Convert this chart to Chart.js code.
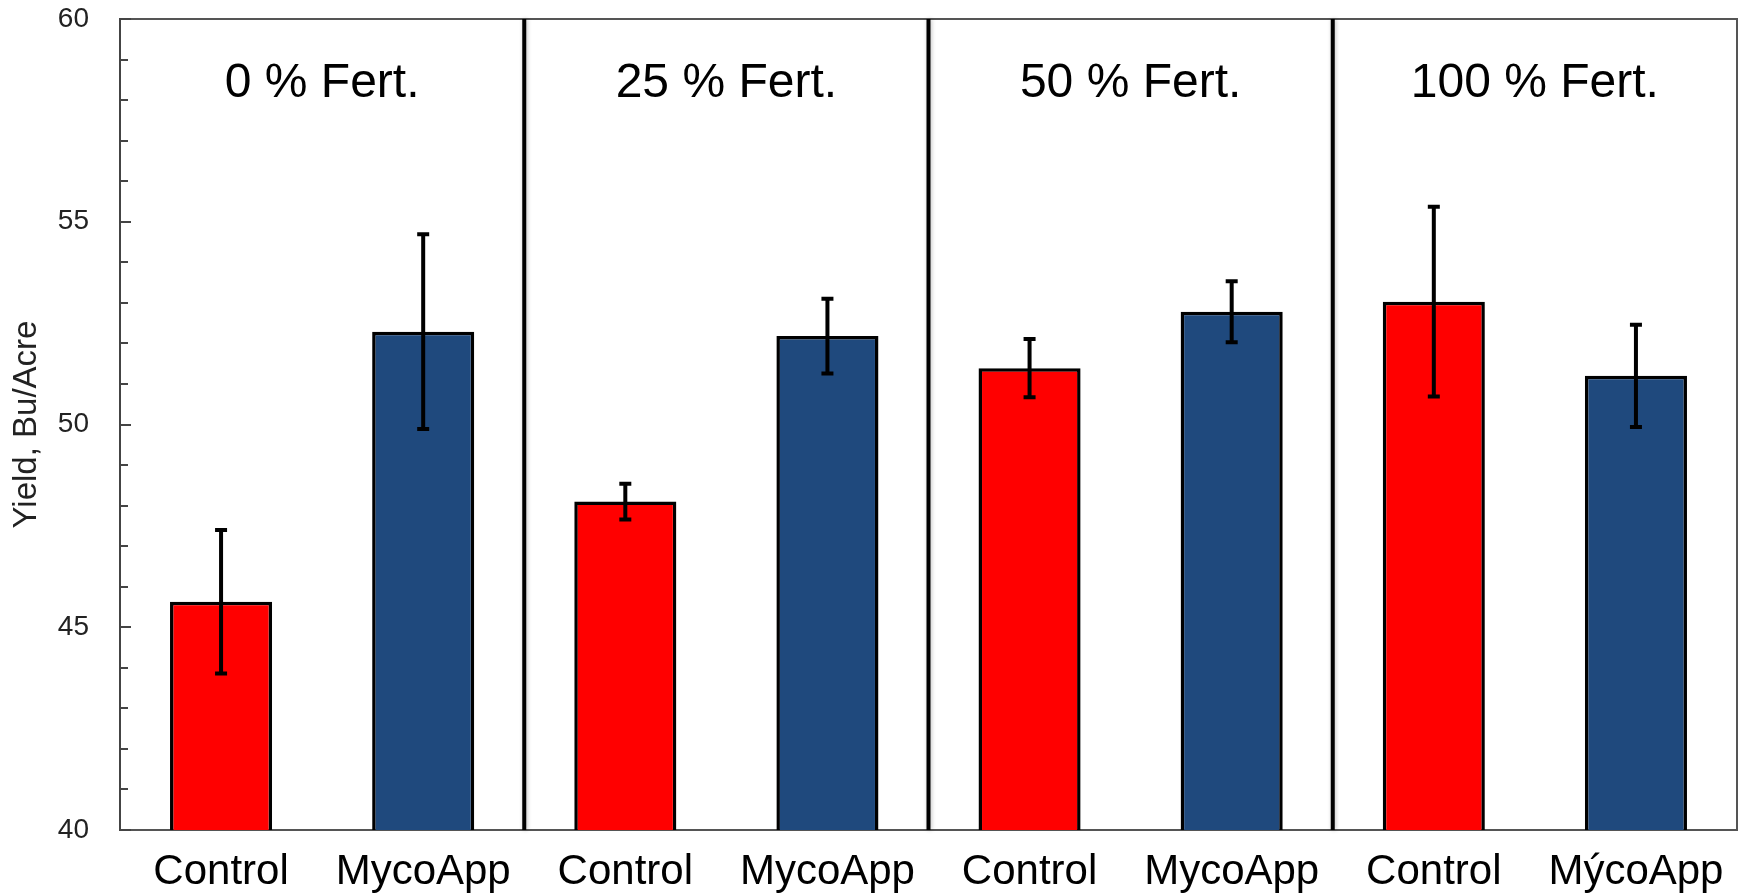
<!DOCTYPE html>
<html>
<head>
<meta charset="utf-8">
<script src="https://cdn.jsdelivr.net/npm/chart.js@4.4.1/dist/chart.umd.min.js"></script>
<style>
  html, body { margin: 0; padding: 0; background: #ffffff; }
  #wrap { position: relative; width: 1742px; height: 896px; }
</style>
</head>
<body>
<div id="wrap"><canvas id="c" width="1742" height="896"></canvas></div>
<script>
// ---- data ----
const categories = ['Control', 'MycoApp', 'Control', 'MycoApp', 'Control', 'MycoApp', 'Control', 'MýcoApp'];
const yieldValues = [45.63, 52.29, 48.10, 52.18, 51.39, 52.78, 53.03, 51.20];
const errorValues = [1.77, 2.40, 0.44, 0.92, 0.72, 0.75, 2.34, 1.26];
const groupLabels = ['0 % Fert.', '25 % Fert.', '50 % Fert.', '100 % Fert.'];
const yTickValues = [40, 45, 50, 55, 60];
const barColors = ['#FF0000', '#1F497D', '#FF0000', '#1F497D', '#FF0000', '#1F497D', '#FF0000', '#1F497D'];

const FONT = "'Liberation Sans', Arial, sans-serif";

const decorPlugin = {
  id: 'decor',
  afterDatasetsDraw(chart) {
    const ctx = chart.ctx;
    const x = chart.scales.x, y = chart.scales.y;
    const area = chart.chartArea;
    ctx.save();
    // frame top + right
    ctx.strokeStyle = '#555';
    ctx.lineWidth = 2;
    ctx.beginPath();
    ctx.moveTo(area.left, area.top);
    ctx.lineTo(area.right, area.top);
    ctx.lineTo(area.right, area.bottom);
    ctx.stroke();
    // inside y ticks (minor each 1, major each 5)
    ctx.strokeStyle = '#444';
    ctx.lineWidth = 2;
    for (let v = y.min; v <= y.max; v += 1) {
      const py = Math.round(y.getPixelForValue(v));
      const len = (v % 5 === 0) ? 11 : 8;
      ctx.beginPath();
      ctx.moveTo(area.left, py);
      ctx.lineTo(area.left + len, py);
      ctx.stroke();
    }
    // group separators
    ctx.strokeStyle = '#000';
    ctx.lineWidth = 4;
    for (let g = 1; g < groupLabels.length; g++) {
      const px = (x.getPixelForValue(2 * g - 1) + x.getPixelForValue(2 * g)) / 2;
      ctx.save();
      ctx.shadowColor = 'rgba(0,0,0,0.25)';
      ctx.shadowBlur = 4;
      ctx.shadowOffsetX = 1;
      ctx.beginPath();
      ctx.moveTo(px, area.top);
      ctx.lineTo(px, area.bottom);
      ctx.stroke();
      ctx.restore();
    }
    // error bars
    ctx.strokeStyle = '#000';
    ctx.lineWidth = 4;
    const capHalf = 6;
    yieldValues.forEach((v, i) => {
      const px = x.getPixelForValue(i);
      const hi = y.getPixelForValue(v + errorValues[i]);
      const lo = y.getPixelForValue(v - errorValues[i]);
      ctx.beginPath();
      ctx.moveTo(px, hi);
      ctx.lineTo(px, lo);
      ctx.moveTo(px - capHalf, hi);
      ctx.lineTo(px + capHalf, hi);
      ctx.moveTo(px - capHalf, lo);
      ctx.lineTo(px + capHalf, lo);
      ctx.stroke();
    });
    // group labels
    ctx.fillStyle = '#000';
    ctx.font = '48px ' + FONT;
    ctx.textAlign = 'center';
    ctx.textBaseline = 'alphabetic';
    groupLabels.forEach((t, g) => {
      const px = (x.getPixelForValue(2 * g) + x.getPixelForValue(2 * g + 1)) / 2;
      ctx.fillText(t, px, area.top + 78);
    });
    ctx.restore();
  }
};

new Chart(document.getElementById('c'), {
  type: 'bar',
  data: {
    labels: categories,
    datasets: [{
      data: yieldValues,
      backgroundColor: barColors,
      borderColor: '#000',
      borderWidth: 3.5,
      borderSkipped: false,
      barPercentage: 0.505,
      categoryPercentage: 1.0
    }]
  },
  options: {
    responsive: false,
    animation: false,
    devicePixelRatio: 1,
    layout: { padding: { top: 19, right: 5, left: 0, bottom: 0 } },
    plugins: { legend: { display: false }, tooltip: { enabled: false } },
    scales: {
      x: {
        grid: { display: false, drawTicks: false },
        border: { display: true, color: '#555', width: 2 },
        ticks: { color: '#000', font: { family: FONT, size: 42 }, padding: 17, maxRotation: 0, autoSkip: false },
        afterFit(s) { s.height = 66; s.paddingLeft = 0; s.paddingRight = 0; }
      },
      y: {
        min: 40, max: 60,
        afterBuildTicks(s) { s.ticks = yTickValues.map(v => ({ value: v })); },
        grid: { display: false, drawTicks: false },
        border: { display: true, color: '#444', width: 2 },
        ticks: { color: '#222', font: { family: FONT, size: 28 }, padding: 31 },
        title: { display: true, text: 'Yield, Bu/Acre', color: '#222', font: { family: FONT, size: 33 }, padding: { top: 7, bottom: 0 } },
        afterFit(s) { s.width = 120; s.paddingTop = 0; s.paddingBottom = 0; }
      }
    }
  },
  plugins: [decorPlugin]
});
</script>
</body>
</html>
